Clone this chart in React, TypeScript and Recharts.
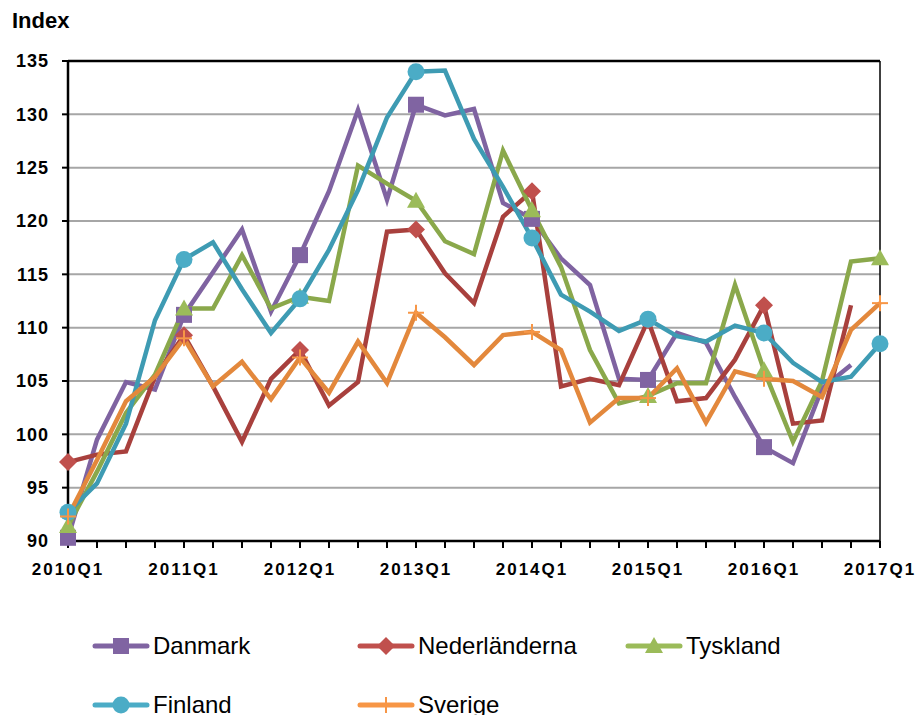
import React from 'react';
import { LineChart, Line, XAxis, YAxis, CartesianGrid, ReferenceLine } from 'recharts';

const quarters = [
  '2010Q1', '2010Q2', '2010Q3', '2010Q4',
  '2011Q1', '2011Q2', '2011Q3', '2011Q4',
  '2012Q1', '2012Q2', '2012Q3', '2012Q4',
  '2013Q1', '2013Q2', '2013Q3', '2013Q4',
  '2014Q1', '2014Q2', '2014Q3', '2014Q4',
  '2015Q1', '2015Q2', '2015Q3', '2015Q4',
  '2016Q1', '2016Q2', '2016Q3', '2016Q4',
  '2017Q1',
];

const danmark = [90.3, 99.5, 104.9, 104.2, 111.2, 115.2, 119.2, 111.5, 116.8, 122.8, 130.4, 122.0, 130.9, 129.9, 130.5, 121.7, 120.2, 116.5, 114.0, 105.2, 105.1, 109.5, 108.6, 103.5, 98.8, 97.3, 104.3, 106.5, null];
const nederlanderna = [97.4, 98.1, 98.4, 105.4, 109.3, 104.5, 99.3, 105.2, 107.9, 102.7, 104.9, 119.0, 119.2, 115.1, 112.3, 120.4, 122.8, 104.5, 105.2, 104.6, 110.7, 103.1, 103.4, 107.0, 112.1, 101.0, 101.3, 112.1, null];
const tyskland = [91.4, 96.5, 102.0, 105.6, 111.8, 111.8, 116.8, 111.8, 112.9, 112.5, 125.2, 123.5, 121.9, 118.1, 116.9, 126.6, 121.0, 115.7, 107.9, 102.9, 103.6, 104.8, 104.8, 114.0, 106.0, 99.3, 105.0, 116.2, 116.5];
const finland = [92.7, 95.4, 101.0, 110.7, 116.4, 118.0, 113.6, 109.5, 112.7, 117.3, 122.9, 129.7, 134.0, 134.1, 127.7, 123.2, 118.4, 113.1, 111.5, 109.7, 110.8, 109.2, 108.7, 110.2, 109.5, 106.7, 104.9, 105.4, 108.5];
const sverige = [92.3, 97.6, 103.1, 105.4, 109.0, 104.5, 106.8, 103.3, 107.2, 103.9, 108.7, 104.8, 111.4, 109.1, 106.5, 109.3, 109.6, 107.9, 101.1, 103.4, 103.4, 106.2, 101.1, 105.9, 105.2, 105.0, 103.5, 109.8, 112.3];

const yTicks = [90, 95, 100, 105, 110, 115, 120, 125, 130, 135];

const series = [
  { key: 'Danmark', values: danmark, line: '#7F63A1', marker: '#8064A2', shape: 'square' },
  { key: 'Nederländerna', values: nederlanderna, line: '#A8403D', marker: '#C0504D', shape: 'diamond' },
  { key: 'Tyskland', values: tyskland, line: '#8AA84B', marker: '#9BBB59', shape: 'triangle' },
  { key: 'Finland', values: finland, line: '#3E9BB3', marker: '#4BACC6', shape: 'circle' },
  { key: 'Sverige', values: sverige, line: '#E3883C', marker: '#F79646', shape: 'plus' },
];

const data = quarters.map((q, i) => {
  const row: any = { q };
  series.forEach((s) => { row[s.key] = s.values[i]; });
  return row;
});

const FONT = '"Liberation Sans", Arial, sans-serif';

const Marker = ({ shape, color, x, y }: any) => {
  if (shape === 'square') return <rect x={x - 8} y={y - 8} width={16} height={16} fill={color} />;
  if (shape === 'diamond') return <polygon points={`${x},${y - 9} ${x + 9},${y} ${x},${y + 9} ${x - 9},${y}`} fill={color} />;
  if (shape === 'triangle') return <polygon points={`${x},${y - 9} ${x + 9},${y + 7} ${x - 9},${y + 7}`} fill={color} />;
  if (shape === 'circle') return <circle cx={x} cy={y} r={8.5} fill={color} />;
  return (
    <g stroke={color} strokeWidth={2}>
      <line x1={x - 8} y1={y} x2={x + 8} y2={y} />
      <line x1={x} y1={y - 8} x2={x} y2={y + 8} />
    </g>
  );
};

// markers only on the Q1 points
const makeDot = (shape: string, color: string) => (props: any) => {
  const { cx, cy, index, payload } = props;
  if (index % 4 !== 0 || cy == null || payload == null) return <g key={`d-${index}`} />;
  return <g key={`d-${index}`}><Marker shape={shape} color={color} x={cx} y={cy} /></g>;
};

const legendPos = [
  { left: 92, top: 646 },
  { left: 357, top: 646 },
  { left: 625, top: 646 },
  { left: 92, top: 705 },
  { left: 357, top: 705 },
];

const ChartLegend = () => (
  <>
    {series.map((s, i) => (
      <div key={s.key} style={{ position: 'absolute', left: legendPos[i].left, top: legendPos[i].top - 16, height: 32, display: 'flex', alignItems: 'center', whiteSpace: 'nowrap' }}>
        <svg width={58} height={32} style={{ marginRight: 3 }}>
          <line x1={3} y1={16} x2={55} y2={16} stroke={s.marker} strokeWidth={5} strokeLinecap="round" />
          <Marker shape={s.shape} color={s.marker} x={29} y={16} />
        </svg>
        <span style={{ fontFamily: FONT, fontSize: 24, color: '#000' }}>{s.key}</span>
      </div>
    ))}
  </>
);

export default function App() {
  return (
    <div style={{ position: 'absolute', left: 0, top: 0, width: 919, height: 715, background: '#fff', overflow: 'hidden' }}>
      <div style={{ position: 'absolute', left: 12, top: 8, fontFamily: FONT, fontWeight: 'bold', fontSize: 22, color: '#000' }}>Index</div>
      <LineChart width={919} height={715} data={data} margin={{ top: 61, right: 39, left: 8, bottom: 144 }}>
        <CartesianGrid vertical={false} horizontal stroke="#A6A6A6" strokeWidth={2} />
        <XAxis
          dataKey="q"
          interval={0}
          height={30}
          axisLine={{ stroke: '#000', strokeWidth: 2.5 }}
          tickLine={{ stroke: '#000', strokeWidth: 2 }}
          tickSize={7}
          tickMargin={15}
          tickFormatter={(v: string) => (v.endsWith('Q1') ? v : '')}
          tick={{ fontFamily: FONT, fontSize: 17, fontWeight: 'bold', fill: '#000', letterSpacing: 2 }}
        />
        <YAxis
          domain={[90, 135]}
          ticks={yTicks}
          width={60}
          interval={0}
          axisLine={{ stroke: '#000', strokeWidth: 2.5 }}
          tickLine={{ stroke: '#000', strokeWidth: 2 }}
          tickSize={6}
          tickMargin={13}
          tick={{ fontFamily: FONT, fontSize: 18, fontWeight: 'bold', fill: '#000', letterSpacing: 1 }}
        />
        <ReferenceLine y={135} stroke="#000" strokeWidth={2.5} />
        <ReferenceLine x="2017Q1" stroke="#000" strokeWidth={1.5} />
        {series.map((s) => (
          <Line
            key={s.key}
            dataKey={s.key}
            stroke={s.line}
            strokeWidth={4.5}
            strokeLinejoin="miter"
            dot={makeDot(s.shape, s.marker)}
            activeDot={false}
            connectNulls={false}
            isAnimationActive={false}
          />
        ))}
      </LineChart>
      <ChartLegend />
    </div>
  );
}
